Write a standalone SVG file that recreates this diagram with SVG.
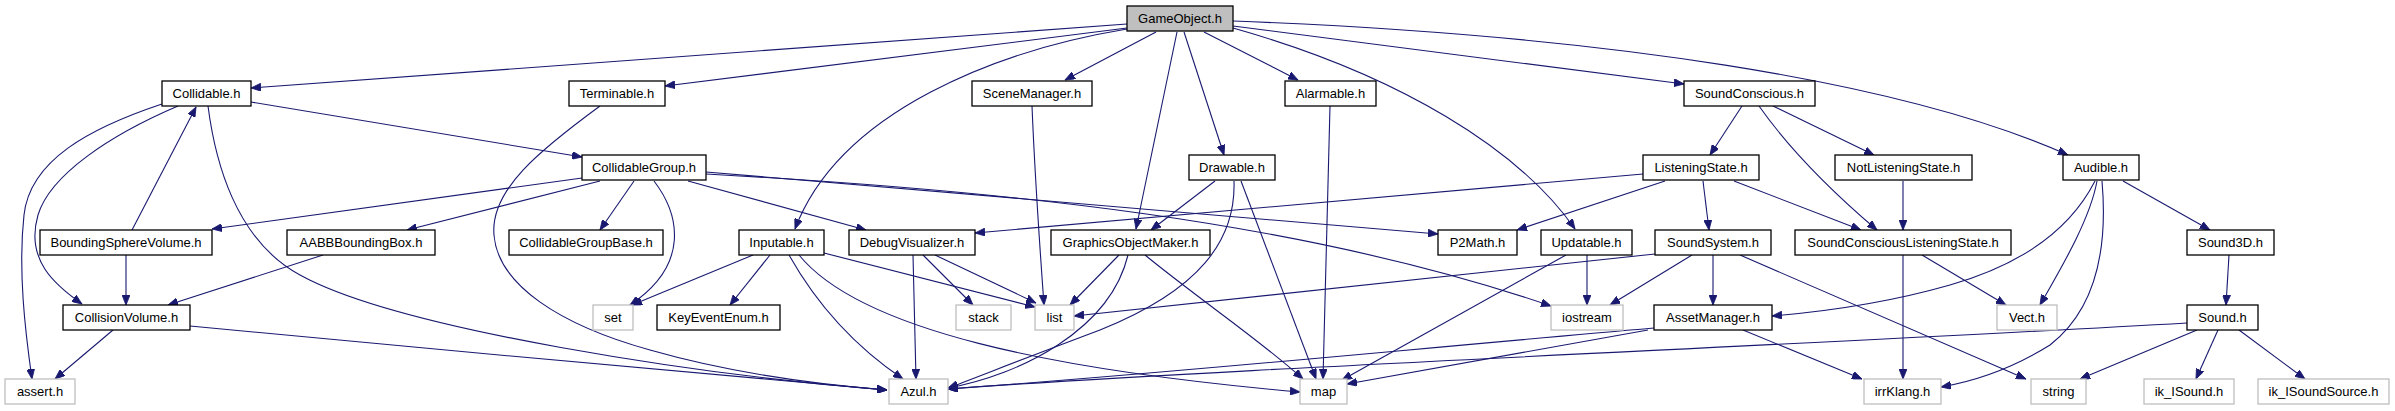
<svg xmlns="http://www.w3.org/2000/svg" width="2395" height="411" viewBox="0 0 2395 411">
<style>
.n rect{fill:#fff;stroke:#000;stroke-width:1.3}
.x rect{fill:#fff;stroke:#bfbfbf;stroke-width:1.3}
#n_GameObject rect{fill:#bfbfbf}
text{font-family:"Liberation Sans",Arial,sans-serif;font-size:13px;text-anchor:middle;fill:#000}
#edges path{fill:none;stroke:#191970;stroke-width:1.1;marker-end:url(#arr)}
</style>
<defs>
<marker id="arr" markerUnits="userSpaceOnUse" markerWidth="11" markerHeight="8" refX="10" refY="4" orient="auto">
<path d="M0,0 L10,4 L0,8 Z" fill="#191970" stroke="#191970" stroke-width="0.8"/>
</marker>
</defs>
<rect width="2395" height="411" fill="#fff"/>
<g id="edges">
<path d="M1127,24 L251,88"/>
<path d="M1127,28 L665,86"/>
<path d="M1127,29 C1000,50 840,110 795,229"/>
<path d="M1156,32 L1065,80"/>
<path d="M1177,32 L1136,229"/>
<path d="M1184,32 L1224,155"/>
<path d="M1204,32 L1298,80"/>
<path d="M1233,28 C1400,75 1520,150 1575,229"/>
<path d="M1233,26 L1684,84"/>
<path d="M1233,21 C1600,35 1900,80 2068,155"/>
<path d="M251,102 L582,157"/>
<path d="M162,104 C90,128 30,160 24,215 C18,270 25,330 32,379"/>
<path d="M178,106 C110,135 50,175 38,215 C25,260 55,285 82,304"/>
<path d="M208,106 C215,160 235,240 300,275 C400,330 700,375 887,390"/>
<path d="M132,230 L196,107"/>
<path d="M582,178 L212,229"/>
<path d="M600,181 L407,230"/>
<path d="M634,181 L600,230"/>
<path d="M654,181 C680,215 690,265 630,305"/>
<path d="M688,181 L866,230"/>
<path d="M706,172 L1438,234"/>
<path d="M706,174 C1000,190 1300,220 1551,306"/>
<path d="M1215,181 L1151,230"/>
<path d="M1234,181 C1236,240 1200,290 1100,330 C1020,360 970,380 948,388"/>
<path d="M1241,181 L1316,379"/>
<path d="M1643,174 L975,233"/>
<path d="M1665,181 L1517,230"/>
<path d="M1703,181 L1709,230"/>
<path d="M1734,181 L1861,230"/>
<path d="M1742,106 L1710,155"/>
<path d="M1773,106 L1874,155"/>
<path d="M1759,106 C1790,150 1830,190 1877,230"/>
<path d="M1903,181 L1903,230"/>
<path d="M2095,181 C2070,230 2020,265 1950,285 C1880,305 1820,312 1772,316"/>
<path d="M2097,181 C2090,220 2060,270 2040,305"/>
<path d="M2102,181 C2108,250 2095,310 2050,345 C2010,370 1970,382 1941,387"/>
<path d="M2123,181 L2210,230"/>
<path d="M2229,255 L2226,305"/>
<path d="M2187,323 C1800,345 1200,370 948,389"/>
<path d="M2197,330 L2080,379"/>
<path d="M2218,330 L2196,379"/>
<path d="M2239,330 L2305,379"/>
<path d="M1655,254 L1074,316"/>
<path d="M1692,255 L1610,305"/>
<path d="M1713,255 L1713,305"/>
<path d="M1740,255 L2026,379"/>
<path d="M1903,255 L1903,379"/>
<path d="M1922,255 L2006,305"/>
<path d="M1654,328 C1400,350 1150,375 948,389"/>
<path d="M1648,330 L1347,384"/>
<path d="M1743,330 L1862,379"/>
<path d="M1587,255 L1587,305"/>
<path d="M1566,255 L1342,380"/>
<path d="M1119,255 L1070,305"/>
<path d="M1128,255 C1110,330 1020,375 948,388"/>
<path d="M1145,255 C1200,300 1260,340 1303,379"/>
<path d="M753,255 L632,305"/>
<path d="M770,255 L730,305"/>
<path d="M824,253 L1035,307"/>
<path d="M789,255 C820,310 860,350 903,379"/>
<path d="M799,255 C860,330 1050,370 1300,392"/>
<path d="M913,255 L916,379"/>
<path d="M923,255 L973,305"/>
<path d="M935,255 L1036,303"/>
<path d="M126,255 L126,305"/>
<path d="M323,255 L168,305"/>
<path d="M113,330 L55,379"/>
<path d="M190,326 C400,345 700,375 887,390"/>
<path d="M600,106 C540,150 490,190 494,235 C498,285 560,325 650,350 C720,370 800,383 887,390"/>
<path d="M1032,106 C1035,180 1040,250 1044,305"/>
<path d="M1330,106 L1323,379"/>
</g>
<g id="n_GameObject" class="n"><rect x="1127" y="6" width="106" height="25"/><text x="1180" y="23">GameObject.h</text></g>
<g id="n_Collidable" class="n"><rect x="162" y="81" width="89" height="25"/><text x="206.5" y="98">Collidable.h</text></g>
<g id="n_Terminable" class="n"><rect x="569" y="81" width="96" height="25"/><text x="617" y="98">Terminable.h</text></g>
<g id="n_SceneManager" class="n"><rect x="972" y="81" width="120" height="25"/><text x="1032" y="98">SceneManager.h</text></g>
<g id="n_Alarmable" class="n"><rect x="1285" y="81" width="91" height="25"/><text x="1330.5" y="98">Alarmable.h</text></g>
<g id="n_SoundConscious" class="n"><rect x="1684" y="81" width="131" height="25"/><text x="1749.5" y="98">SoundConscious.h</text></g>
<g id="n_CollidableGroup" class="n"><rect x="582" y="155" width="124" height="25"/><text x="644" y="172">CollidableGroup.h</text></g>
<g id="n_Drawable" class="n"><rect x="1189" y="155" width="86" height="25"/><text x="1232" y="172">Drawable.h</text></g>
<g id="n_ListeningState" class="n"><rect x="1643" y="155" width="116" height="25"/><text x="1701" y="172">ListeningState.h</text></g>
<g id="n_NotListeningState" class="n"><rect x="1835" y="155" width="137" height="25"/><text x="1903.5" y="172">NotListeningState.h</text></g>
<g id="n_Audible" class="n"><rect x="2063" y="155" width="76" height="25"/><text x="2101" y="172">Audible.h</text></g>
<g id="n_BoundingSphereVolume" class="n"><rect x="40" y="230" width="172" height="25"/><text x="126" y="247">BoundingSphereVolume.h</text></g>
<g id="n_AABBBoundingBox" class="n"><rect x="287" y="230" width="148" height="25"/><text x="361" y="247">AABBBoundingBox.h</text></g>
<g id="n_CollidableGroupBase" class="n"><rect x="509" y="230" width="154" height="25"/><text x="586" y="247">CollidableGroupBase.h</text></g>
<g id="n_Inputable" class="n"><rect x="739" y="230" width="85" height="25"/><text x="781.5" y="247">Inputable.h</text></g>
<g id="n_DebugVisualizer" class="n"><rect x="849" y="230" width="126" height="25"/><text x="912" y="247">DebugVisualizer.h</text></g>
<g id="n_GraphicsObjectMaker" class="n"><rect x="1051" y="230" width="159" height="25"/><text x="1130.5" y="247">GraphicsObjectMaker.h</text></g>
<g id="n_P2Math" class="n"><rect x="1438" y="230" width="79" height="25"/><text x="1477.5" y="247">P2Math.h</text></g>
<g id="n_Updatable" class="n"><rect x="1541" y="230" width="91" height="25"/><text x="1586.5" y="247">Updatable.h</text></g>
<g id="n_SoundSystem" class="n"><rect x="1655" y="230" width="116" height="25"/><text x="1713" y="247">SoundSystem.h</text></g>
<g id="n_SoundConsciousListeningState" class="n"><rect x="1795" y="230" width="216" height="25"/><text x="1903" y="247">SoundConsciousListeningState.h</text></g>
<g id="n_Sound3D" class="n"><rect x="2187" y="230" width="87" height="25"/><text x="2230.5" y="247">Sound3D.h</text></g>
<g id="n_CollisionVolume" class="n"><rect x="63" y="305" width="127" height="25"/><text x="126.5" y="322">CollisionVolume.h</text></g>
<g id="n_set" class="x"><rect x="593" y="305" width="40" height="25"/><text x="613" y="322">set</text></g>
<g id="n_KeyEventEnum" class="n"><rect x="657" y="305" width="123" height="25"/><text x="718.5" y="322">KeyEventEnum.h</text></g>
<g id="n_stack" class="x"><rect x="956" y="305" width="55" height="25"/><text x="983.5" y="322">stack</text></g>
<g id="n_list" class="x"><rect x="1035" y="305" width="39" height="25"/><text x="1054.5" y="322">list</text></g>
<g id="n_iostream" class="x"><rect x="1551" y="305" width="72" height="25"/><text x="1587" y="322">iostream</text></g>
<g id="n_AssetManager" class="n"><rect x="1654" y="305" width="118" height="25"/><text x="1713" y="322">AssetManager.h</text></g>
<g id="n_Vect" class="x"><rect x="1997" y="305" width="60" height="25"/><text x="2027" y="322">Vect.h</text></g>
<g id="n_Sound" class="n"><rect x="2187" y="305" width="71" height="25"/><text x="2222.5" y="322">Sound.h</text></g>
<g id="n_assert" class="x"><rect x="5" y="379" width="70" height="25"/><text x="40" y="396">assert.h</text></g>
<g id="n_Azul" class="x"><rect x="889" y="379" width="59" height="25"/><text x="918.5" y="396">Azul.h</text></g>
<g id="n_map" class="x"><rect x="1300" y="379" width="47" height="25"/><text x="1323.5" y="396">map</text></g>
<g id="n_irrKlang" class="x"><rect x="1864" y="379" width="77" height="25"/><text x="1902.5" y="396">irrKlang.h</text></g>
<g id="n_string" class="x"><rect x="2031" y="379" width="55" height="25"/><text x="2058.5" y="396">string</text></g>
<g id="n_ik_ISound" class="x"><rect x="2144" y="379" width="90" height="25"/><text x="2189" y="396">ik_ISound.h</text></g>
<g id="n_ik_ISoundSource" class="x"><rect x="2258" y="379" width="131" height="25"/><text x="2323.5" y="396">ik_ISoundSource.h</text></g>
</svg>
